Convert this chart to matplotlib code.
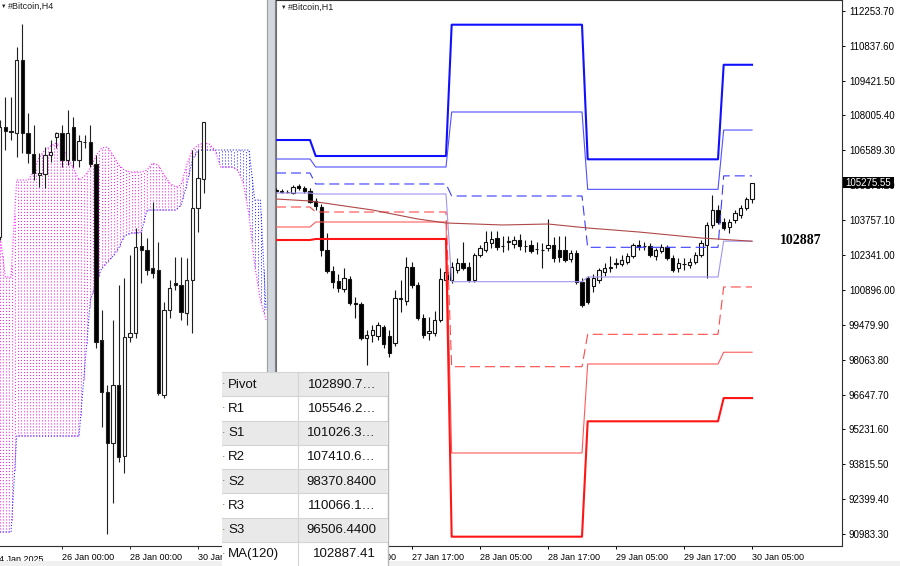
import numpy as np
import matplotlib
matplotlib.use("Agg")
import matplotlib.pyplot as plt
from matplotlib.patches import Rectangle
from matplotlib.collections import LineCollection
from matplotlib.transforms import blended_transform_factory

plt.rcParams['font.family'] = ['Liberation Sans', 'DejaVu Sans']

W, H = 900, 566

# ---------------- H1 chart data (26 Jan 17:00 ... 30 Jan 05:00, hourly) ----------------
h1_label_bars = [0, 12, 24, 36, 48, 60, 72, 84]
h1_time_labels = ["26 Jan 17:00", "27 Jan 05:00", "27 Jan 17:00", "28 Jan 05:00",
                  "28 Jan 17:00", "29 Jan 05:00", "29 Jan 17:00", "30 Jan 05:00"]

h1_open = [104931, 104931, 104890, 104850, 105135, 105053, 104931, 104524, 104280, 102531,
           101677, 101270, 100944, 101351, 100375, 100334, 98951, 99073, 99033, 99399,
           99033, 98748, 100538, 100456, 101839, 101107, 99765, 99155, 99155, 99683,
           101311, 101311, 101717, 102002, 101839, 101311, 102328, 102531, 102816, 103019,
           102694, 102856, 102775, 102938, 102694, 102734, 102572, 102531, 102612, 102734,
           102531, 102531, 102165, 102409, 101229, 101392, 101067, 101311, 101636, 101799,
           101961, 101961, 102043, 102287, 102734, 102694, 102694, 102287, 102490, 102653,
           102206, 101799, 101961, 101921, 102043, 102328, 102734, 103548, 104158, 103670,
           103467, 103751, 103955, 104240, 104606]
h1_high = [105053, 105012, 104972, 105175, 105216, 105135, 105053, 104646, 104402, 103223,
           101880, 101555, 101799, 101473, 100619, 100416, 99277, 99480, 99602, 99480,
           99277, 100904, 101311, 102246, 102043, 101229, 99927, 99805, 100050, 101799,
           101921, 102043, 102206, 102856, 102043, 102409, 102734, 103304, 103304, 103304,
           103101, 103101, 103101, 103182, 102938, 102938, 102856, 102816, 103792, 103060,
           103101, 103101, 102531, 102531, 101392, 101473, 101555, 101799, 102002, 102287,
           102206, 102328, 102409, 102816, 102938, 102856, 102816, 102612, 102775, 102734,
           102328, 102206, 102206, 102206, 102450, 102938, 103670, 104768, 104362, 103833,
           103792, 104158, 104362, 104687, 105275.55]
h1_low = [104850, 104850, 104850, 104809, 104972, 104850, 104443, 104158, 102287, 101595,
          100985, 100822, 100822, 100294, 99765, 98870, 97853, 98788, 98870, 98544,
          98178, 98626, 100009, 100294, 100985, 99683, 98951, 98870, 99033, 99602,
          101067, 101189, 101595, 101717, 101229, 101229, 102246, 102450, 102612, 102531,
          102450, 102531, 102612, 102531, 102450, 102409, 102368, 101799, 102490, 102043,
          102043, 102043, 102043, 101148, 100212, 100334, 100822, 101189, 101473, 101636,
          101799, 101880, 101961, 102206, 102531, 102531, 102246, 102124, 102409, 102124,
          101636, 101636, 101717, 101799, 101961, 102246, 101392, 103426, 103589, 103345,
          103223, 103629, 103833, 104158, 104443]
h1_close = [104972, 104890, 104910, 105094, 105053, 104931, 104484, 104321, 102531, 101677,
            101229, 100985, 101392, 100375, 100334, 98951, 99073, 99277, 99480, 98707,
            98341, 100578, 100560, 101839, 101107, 99765, 99073, 99236, 99683, 101351,
            101636, 101839, 102002, 101799, 101311, 102328, 102612, 102856, 102978, 102653,
            102673, 102877, 102917, 102694, 102700, 102490, 102580, 102510, 102734, 102206,
            102246, 102124, 102409, 101229, 100294, 100416, 101392, 101717, 101799, 101819,
            102002, 102124, 102287, 102734, 102653, 102700, 102328, 102531, 102653, 102206,
            101717, 102002, 101970, 102043, 102328, 102816, 103548, 104158, 103670, 103426,
            103670, 104036, 104240, 104606, 105275.55]

# daily pivot levels (one value per day), first H1 bar of each day
day_first_bar = [0, 7, 31, 55, 79]
pivot_R3 = [107005, 106354, 111696, 106220, 110066.1]
pivot_R2 = [106232, 105907, 108145, 104998, 107410.6]
pivot_R1 = [105663, 105216, 104727, 102640, 105546.2]
pivot_PP = [104849, 104809, 101241, 101433, 102890.7]
pivot_S1 = [104280, 104076, 97783, 99100, 101026.3]
pivot_S2 = [103466, 103669, 94272, 97893, 98370.84]
pivot_S3 = [102937, 102978, 90867, 95561, 96506.44]

# MA(120) read at a few bars
ma_bars = [0, 6, 17, 25, 30, 40, 48, 55, 64, 75, 84]
ma_values = [104605, 104524, 104158, 103792, 103629, 103548, 103588, 103426, 103263, 103019, 102887.41]

price_ticks = [112253.70, 110837.60, 109421.50, 108005.40, 106589.30, 105173.20, 103757.10,
               102341.00, 100896.00, 99479.90, 98063.80, 96647.70, 95231.60, 93815.50,
               92399.40, 90983.30]

# ---------------- H4 chart data (24 Jan 04:00 ... 30 Jan 04:00) ----------------
h4_label_bars = [11, 23, 35]
h4_time_labels = ["26 Jan 00:00", "28 Jan 00:00", "30 Jan 00:00"]
h4_first_label = "24 Jan 2025"

h4_open = [103187, 105189, 105116, 105079, 106408, 105079, 104697, 104315, 104333, 104679,
           105007, 105079, 104588, 105189, 104588, 104916, 104916, 104515, 101312, 100366,
           99437, 100493, 99201, 101366, 101439, 103023, 102950, 102622, 102586, 100311,
           101858, 102349, 102313, 101803, 102404, 103714, 104242]
h4_high = [105316, 105735, 105735, 106645, 107063, 105443, 105225, 104715, 104825, 104952,
           105098, 105225, 105498, 105371, 105043, 105043, 105225, 104679, 101858, 100493,
           101676, 102313, 102440, 102859, 103350, 103278, 103168, 103824, 103096, 102004,
           102404, 102823, 102823, 102804, 104770, 104770, 105280]
h4_low = [103132, 104770, 104952, 104643, 104715, 104534, 104224, 104097, 104078, 104552,
          104806, 104461, 104497, 104461, 104461, 104806, 104461, 101166, 99729, 97781,
          98345, 99092, 98891, 101276, 101348, 102349, 102495, 102440, 100311, 100256,
          101712, 102222, 101676, 101585, 101439, 103278, 103987]
h4_close = [105189, 105116, 105098, 106408, 105079, 104715, 104351, 104351, 104679, 104734,
            105079, 104588, 105079, 104588, 104934, 104910, 104515, 101276, 100366, 99437,
            100493, 99183, 101366, 101439, 103005, 102950, 102586, 102531, 100347, 101858,
            102258, 102313, 101822, 102404, 103714, 104260, 105280]

# Ichimoku cloud (Senkou span A / B), shifted forward
span_a = [103259, 102459, 102459, 104224, 104224, 104224, 104370, 104643, 104770, 104843,
          104897, 104825, 104624, 104442, 104224, 104297, 104442, 104661, 104806, 104825,
          104679, 104497, 104406, 104370, 104370, 104370, 104406, 104534, 104497, 104315,
          104169, 104097, 104133, 104497, 104770, 104861, 104897, 104879, 104770, 104461,
          104461, 104461, 104406, 104169, 103587, 102677, 102040, 101676]
span_b = [97818, 97818, 97818, 99565, 99565, 99565, 99565, 99565, 99565, 99565,
          99565, 99565, 99565, 99565, 99565, 100802, 102040, 102349, 102622, 102732,
          102841, 102986, 103205, 103259, 103259, 103278, 103678, 103678, 103678, 103678,
          103678, 103678, 103769, 104133, 104588, 104770, 104770, 104770, 104770, 104770,
          104770, 104770, 104770, 104770, 104770, 103860, 103860, 101858]

table_names = ["Pivot", "R1", "S1", "R2", "S2", "R3", "S3", "MA(120)"]

# ---------------- figure ----------------
fig = plt.figure(figsize=(W / 100, H / 100), dpi=100)
fig.patch.set_facecolor("white")


def rect_px(x0, y0, x1, y1):
    return [x0 / W, 1 - y1 / H, (x1 - x0) / W, (y1 - y0) / H]


axL = fig.add_axes(rect_px(0, 0, 267, 546))
axR = fig.add_axes(rect_px(276, 0, 842, 546))
ov = fig.add_axes([0, 0, 1, 1], zorder=10)
ov.set_xlim(0, W)
ov.set_ylim(H, 0)
ov.axis("off")
ov.patch.set_alpha(0)


def draw_candles(ax, xs, o, h, l, c, width, col="#111111", lw=0.8):
    for x, oo, hh, ll, cc in zip(xs, o, h, l, c):
        ax.vlines(x, ll, hh, color=col, lw=lw, zorder=3)
        bottom = min(oo, cc)
        height = abs(cc - oo)
        fc = "white" if cc >= oo else "black"
        ax.add_patch(Rectangle((x - width / 2, bottom), width, height,
                               facecolor=fc, edgecolor=col, lw=lw, zorder=4))


# ---------------- left H4 panel ----------------
axL.set_xlim(0.053, 47.17)
axL.set_ylim(97563, 107500)
jx = np.arange(len(span_a))
# cloud hatch (vertical dotted columns)
t = np.arange(0.0, len(span_a) - 1 + 0.01, 0.53)
a_t = np.interp(t, jx, span_a)
b_t = np.interp(t, jx, span_b)
segs_m, segs_b = [], []
for tt, aa, bb in zip(t, a_t, b_t):
    if aa >= bb:
        segs_m.append([(tt, bb), (tt, aa)])
    else:
        segs_b.append([(tt, aa), (tt, bb)])
dot = [(0, (1.0, 1.9))]
axL.add_collection(LineCollection(segs_m, colors="#ff20ff", linewidths=0.75,
                                  linestyles=dot, zorder=1))
axL.add_collection(LineCollection(segs_b, colors="#3030ff", linewidths=0.75,
                                  linestyles=dot, zorder=1))
axL.plot(jx, span_a, color="#ff20ff", lw=0.8, ls=(0, (1.0, 1.6)), zorder=2)
axL.plot(jx, span_b, color="#3030ff", lw=0.8, ls=(0, (1.0, 1.6)), zorder=2)
draw_candles(axL, np.arange(len(h4_open)), h4_open, h4_high, h4_low, h4_close, 0.58,
             col="#202020", lw=0.8)

for s in ["top", "left"]:
    axL.spines[s].set_visible(False)
axL.spines["right"].set_color("#909090")
axL.spines["bottom"].set_color("#303030")
axL.set_yticks([])
axL.set_xticks(h4_label_bars)
axL.set_xticklabels(h4_time_labels, ha="left", fontsize=6.5)
axL.tick_params(axis="x", direction="out", length=2.5, width=0.7, pad=2.5, color="#303030")
trL = blended_transform_factory(axL.transData, axL.transAxes)
axL.text(-1.0, -0.0165, h4_first_label, transform=trL, ha="left", va="top",
         fontsize=6.5, clip_on=False)

# ---------------- right H1 panel ----------------
axR.set_xlim(0, 99.88)
axR.set_ylim(90488, 112701)
bars = np.arange(len(h1_open))
draw_candles(axR, bars, h1_open, h1_high, h1_low, h1_close, 0.56, col="#111111", lw=0.8)

day_idx = np.searchsorted(day_first_bar, bars, side="right") - 1
lvl = lambda arr: np.asarray(arr, dtype=float)[day_idx]
axR.plot(bars, lvl(pivot_R3), color="#1010ff", lw=1.5, zorder=6)
axR.plot(bars, lvl(pivot_R2), color="#5050ff", lw=0.8, zorder=6)
axR.plot(bars, lvl(pivot_R1), color="#3c3cff", lw=0.8, ls=(0, (9, 4.5)), zorder=6)
axR.plot(bars, lvl(pivot_PP), color="#a096ee", lw=0.8, zorder=6)
axR.plot(bars, lvl(pivot_S1), color="#ff4a4a", lw=0.8, ls=(0, (9, 4.5)), zorder=6)
axR.plot(bars, lvl(pivot_S2), color="#ff5a5a", lw=0.8, zorder=6)
axR.plot(bars, lvl(pivot_S3), color="#ff1515", lw=1.5, zorder=6)
axR.plot(ma_bars, ma_values, color="#b04848", lw=0.8, zorder=6)

axR.yaxis.tick_right()
axR.set_yticks(price_ticks)
axR.set_yticklabels([f"{v:.2f}" for v in price_ticks], fontsize=7)
axR.tick_params(axis="y", direction="out", length=2.5, width=0.7, pad=2.5)
axR.set_xticks(h1_label_bars)
axR.set_xticklabels(h1_time_labels, ha="left", fontsize=6.5)
axR.tick_params(axis="x", direction="out", length=2.5, width=0.7, pad=2.5)
for s in ["top", "right", "bottom"]:
    axR.spines[s].set_color("#303030")
axR.spines["left"].set_color("#707070")

# ---------------- overlay: window frames, texts, table ----------------
ov.add_patch(Rectangle((267, 0), 9, 546, facecolor="#d3d7de", edgecolor="none"))
ov.plot([267, 267], [0, 546], color="#a0a0a0", lw=0.8)
ov.plot([275.3, 275.3], [0, 546], color="#808080", lw=0.8)
ov.add_patch(Rectangle((0, 561), W, 5, facecolor="#f0f0f0", edgecolor="none"))

ov.text(1, 6, "▼", fontsize=4, va="center", ha="left", color="#202020")
ov.text(8, 6.5, "#Bitcoin,H4", fontsize=6.5, va="center", ha="left", color="#202020")
ov.text(281, 7, "▼", fontsize=4, va="center", ha="left", color="#202020")
ov.text(288, 7.5, "#Bitcoin,H1", fontsize=6.5, va="center", ha="left", color="#202020")

# current price box
cur = h1_close[-1]
trP = blended_transform_factory(ov.transData, axR.transData)
ov.add_patch(Rectangle((843, cur - 215), 51, 430, facecolor="black", edgecolor="none",
                       transform=trP, zorder=12))
ov.text(845, cur, f"{cur:.2f}", transform=trP, color="white", fontsize=7,
        va="center", ha="left", zorder=13)

# MA value label
ov.text(780, 240, f"{round(ma_values[-1]):d}", fontsize=10, fontweight="bold",
        family=["Liberation Serif", "DejaVu Serif"], va="center", ha="left", color="black")

# data window table
pv_vals = [pivot_PP[-1], pivot_R1[-1], pivot_S1[-1], pivot_R2[-1], pivot_S2[-1],
           pivot_R3[-1], pivot_S3[-1]]
strs = []
for v in pv_vals:
    s = f"{v:.4f}"
    if len(s) > 10:
        s = s[:8] + "…"
    strs.append(s)
strs.append(f"{ma_values[-1]:.2f}")

ty0, rh = 372.0, 24.25
ov.add_patch(Rectangle((222, ty0), 166, H - ty0, facecolor="white", edgecolor="none", zorder=11))
for k, (name, s) in enumerate(zip(table_names, strs)):
    y0 = ty0 + k * rh
    fc = "#e9e9e9" if k % 2 == 0 else "white"
    ov.add_patch(Rectangle((222, y0), 165, rh, facecolor=fc, edgecolor="none", zorder=11))
    ov.plot([222, 387], [y0, y0], color="#d4d4d4", lw=0.8, zorder=12)
    ov.text(221.5, y0 + rh / 2 + 3, ".", fontsize=9, color="#a06a30", va="bottom", ha="left",
            zorder=13)
    ov.text(228, y0 + rh / 2 + 0.5, name, fontsize=9.5, color="#101010", va="center",
            ha="left", zorder=13)
    ov.text(376, y0 + rh / 2 + 0.5, s, fontsize=9.5, color="#101010", va="center",
            ha="right", zorder=13)
ov.plot([297.5, 297.5], [ty0, H], color="#d4d4d4", lw=0.8, zorder=12)
ov.plot([387.5, 387.5], [ty0, H], color="#b8b8b8", lw=1.0, zorder=12)

fig.savefig("out.png", dpi=100)
